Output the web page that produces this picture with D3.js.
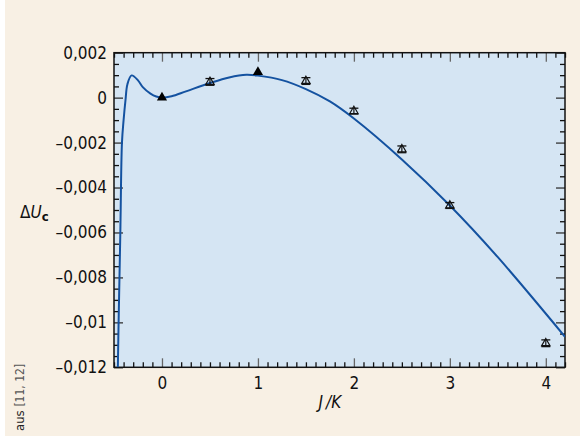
<!DOCTYPE html>
<html>
<head>
<meta charset="utf-8">
<script src="https://cdn.jsdelivr.net/npm/d3@7"></script>
<style>
    body { margin: 0; background: #fff; }
    svg text { font-family: "Liberation Sans Narrow", "DejaVu Sans Condensed", "Roboto Condensed", sans-serif; fill: #111; }
</style>
</head>
<body>
<svg id="chart"></svg>
<script>
    // data
    let xTicks = [0, 1, 2, 3, 4];
    let yTicks = [0.002, 0, -0.002, -0.004, -0.006, -0.008, -0.01, -0.012];
    let yTickLabels = ["0,002", "0", "\u20130,002", "\u20130,004", "\u20130,006", "\u20130,008", "\u20130,01", "\u20130,012"];

    // fitted curve
    let curveX = [-0.46, -0.452, -0.434, -0.417, -0.40, -0.38, -0.36, -0.316, -0.25, -0.2, -0.12, -0.06, 0, 0.1, 0.25, 0.5, 0.7, 0.88, 1.0, 1.25, 1.5, 1.75, 2.0, 2.5, 3.0, 3.5, 4.2];
    let curveY = [-0.012, -0.010, -0.006, -0.002, -0.001, -0.0001, 0.0006, 0.00099, 0.00077, 0.00047, 0.00018, 0.00005, 0, 0.00006, 0.00028, 0.00065, 0.0009, 0.00102, 0.00098, 0.00078, 0.00038, -0.00017, -0.00093, -0.00275, -0.0048, -0.0071, -0.01064];

    // measured points
    let pointX = [0, 0.5, 1, 1.5, 2, 2.5, 3, 4];
    let pointY = [0, 0.0007, 0.00114, 0.00074, -0.0006, -0.0023, -0.0048, -0.01093];
    let pointErr = [0, 0.00015, 0, 0.00015, 0.00013, 0.00015, 0.00013, 0.00015];

    let width = 580, height = 436;
    let margin = { top: 52.7, left: 114, right: 15, bottom: 68.7 };
    let bodyWidth = width - margin.left - margin.right;
    let bodyHeight = height - margin.top - margin.bottom;

    let svg = d3.select("#chart").attr("width", width).attr("height", height);

    svg.append("rect").attr("x", 5).attr("y", 0).attr("width", width - 5).attr("height", height)
        .attr("fill", "#f8f0e4");

    let xScale = d3.scaleLinear().domain([-0.5, 4.2]).range([0, bodyWidth]);
    let yScale = d3.scaleLinear().domain([-0.012, 0.002]).range([bodyHeight, 0]);

    let body = svg.append("g").attr("transform", `translate(${margin.left},${margin.top})`);

    body.append("rect").attr("width", bodyWidth).attr("height", bodyHeight).attr("fill", "#d5e5f3");

    svg.append("defs").append("clipPath").attr("id", "clip")
        .append("rect").attr("width", bodyWidth).attr("height", bodyHeight);

    // minor tick values
    let xMinor = d3.range(-5, 43).map(i => i / 10).filter(v => xTicks.indexOf(v) < 0);
    let yMinor = d3.range(-24, 5).map(i => i * 0.0005).filter(v => !yTicks.some(t => Math.abs(t - v) < 1e-9));

    function drawAxis(axis, tx, ty, color) {
        let g = body.append("g").attr("transform", `translate(${tx},${ty})`).call(axis);
        g.select(".domain").remove();
        g.selectAll(".tick line").attr("stroke", color).attr("stroke-width", 1.3);
        return g;
    }

    // bottom
    let gx = drawAxis(d3.axisBottom(xScale).tickValues(xTicks).tickSize(-9).tickPadding(10).tickFormat(d3.format("d")), 0, bodyHeight, "#666");
    gx.selectAll("text").style("font-size", "17px").attr("fill", "#111");
    drawAxis(d3.axisBottom(xScale).tickValues(xMinor).tickSize(-5).tickFormat(""), 0, bodyHeight, "#111");
    // top
    drawAxis(d3.axisTop(xScale).tickValues(xTicks).tickSize(-9).tickFormat(""), 0, 0, "#666");
    drawAxis(d3.axisTop(xScale).tickValues(xMinor).tickSize(-5).tickFormat(""), 0, 0, "#111");
    // left
    let gy = drawAxis(d3.axisLeft(yScale).tickValues(yTicks).tickSize(-9).tickPadding(7).tickFormat((d, i) => yTickLabels[i]), 0, 0, "#333");
    gy.selectAll("text").style("font-size", "17px").attr("fill", "#111");
    drawAxis(d3.axisLeft(yScale).tickValues(yMinor).tickSize(-5).tickFormat(""), 0, 0, "#111");
    // right
    drawAxis(d3.axisRight(yScale).tickValues(yTicks).tickSize(-9).tickFormat(""), bodyWidth, 0, "#333");
    drawAxis(d3.axisRight(yScale).tickValues(yMinor).tickSize(-5).tickFormat(""), bodyWidth, 0, "#111");

    // frame
    body.append("rect").attr("width", bodyWidth).attr("height", bodyHeight)
        .attr("fill", "none").attr("stroke", "#111").attr("stroke-width", 1.5);

    // curve
    let line = d3.line()
        .x((d, i) => xScale(d))
        .y((d, i) => yScale(curveY[i]))
        .curve(d3.curveCatmullRom.alpha(0.5));

    body.append("path")
        .attr("clip-path", "url(#clip)")
        .attr("d", line(curveX))
        .attr("fill", "none")
        .attr("stroke", "#1452a0")
        .attr("stroke-width", 2);

    // points
    let points = pointX.map((x, i) => ({ x: x, y: pointY[i], e: pointErr[i] }));
    let tri = d3.symbol().type(d3.symbolTriangle);

    let pg = body.selectAll(".pt").data(points).enter().append("g")
        .attr("transform", d => `translate(${xScale(d.x)},${yScale(d.y)})`);

    pg.filter(d => d.e > 0).each(function(d) {
        let g = d3.select(this);
        let dy = yScale(d.y - d.e) - yScale(d.y);
        g.append("line").attr("x1", 0).attr("x2", 0).attr("y1", -dy).attr("y2", dy)
            .attr("stroke", "#111").attr("stroke-width", 1.2);
        g.append("line").attr("x1", -4.5).attr("x2", 4.5).attr("y1", -dy).attr("y2", -dy)
            .attr("stroke", "#111").attr("stroke-width", 1.3);
        g.append("line").attr("x1", -4.5).attr("x2", 4.5).attr("y1", dy).attr("y2", dy)
            .attr("stroke", "#111").attr("stroke-width", 1.3);
        g.append("path").attr("d", tri.size(30)()).attr("fill", "none")
            .attr("stroke", "#111").attr("stroke-width", 1.2);
    });

    pg.filter(d => d.e === 0).append("path")
        .attr("d", tri.size(45)())
        .attr("fill", "#000");

    // titles
    let xt = svg.append("text")
        .attr("x", margin.left + xScale(1.75))
        .attr("y", 408)
        .attr("text-anchor", "middle")
        .style("font-size", "17px")
        .style("font-style", "italic");
    xt.append("tspan").text("J\u2009/K");

    let yt = svg.append("text").attr("x", 20).attr("y", 218).style("font-size", "17px");
    yt.append("tspan").text("\u0394");
    yt.append("tspan").text("U").style("font-style", "italic");
    yt.append("tspan").text("c").attr("dy", 3).style("font-size", "13px").style("font-weight", "bold");

    let src = svg.append("text")
        .attr("transform", "translate(24,431) rotate(-90)")
        .style("font-size", "12px");
    src.append("tspan").text("aus ").style("font-size", "13px").attr("fill", "#222");
    src.append("tspan").text("[11, 12]").attr("fill", "#555");
</script>
</body>
</html>
